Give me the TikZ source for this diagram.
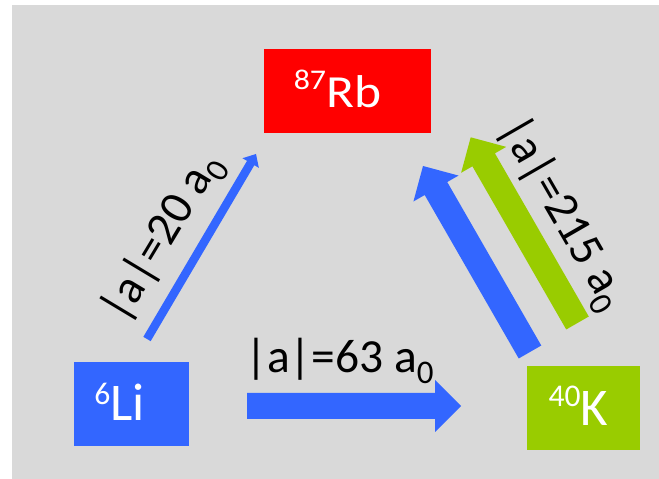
\documentclass[tikz,border=0pt]{standalone}
\usepackage{fontspec}
\setmainfont{Carlito}
\usetikzlibrary{calc}

\definecolor{slidegray}{HTML}{D9D9D9}
\definecolor{rbred}{HTML}{FF0000}
\definecolor{liblue}{HTML}{3366FF}
\definecolor{kgreen}{HTML}{99CC00}

% block arrow from tail #1 to tip #2: half shaft width #3, half head width #4, head length #5, colour #6
\newcommand\blockarrow[6]{%
  \coordinate (#1-base) at ($(#2)!#5!(#1)$);
  \fill[#6] ($(#1)!#3!90:(#2)$) -- ($(#1-base)!#3!90:(#2)$) -- ($(#1-base)!#4!90:(#2)$)
    -- (#2) -- ($(#1-base)!#4!-90:(#2)$) -- ($(#1-base)!#3!-90:(#2)$)
    -- ($(#1)!#3!-90:(#2)$) -- cycle;}

% scattering length label with subscript zero
\newcommand\aval[1]{|a|=#1 a\raisebox{-10.5pt}{\fontsize{33}{33}\selectfont 0}}

\tikzset{
  box/.style={rectangle, draw=none, inner sep=0pt},
  boxtext/.style={text=white, inner sep=0pt, font=\fontsize{53}{56}\selectfont},
  lbl/.style={text=black, inner sep=0pt, font=\fontsize{47.5}{50}\selectfont}
}

\begin{document}
\begin{tikzpicture}[x=1pt, y=1pt]
  \useasboundingbox (0,0) rectangle (659,479);
  \fill[slidegray] (12,0) rectangle (659,474);

  % species boxes
  \node[box, fill=rbred, minimum width=167pt, minimum height=84pt] (rb) at (347.5,388) {};
  \node[boxtext, anchor=base, xscale=1.12, font=\fontsize{46}{50}\selectfont] (rbtxt) at ($(rb.center)+(-10,-17)$)
    {\raisebox{18pt}{\fontsize{28.5}{30}\selectfont 87}Rb};

  \node[box, fill=liblue, minimum width=115pt, minimum height=84pt] (li) at (131.5,75) {};
  \node[boxtext, anchor=base] (litxt) at ($(li.center)+(-12,-17)$)
    {\raisebox{16pt}{\fontsize{31.6}{33}\selectfont 6}Li};

  \node[box, fill=kgreen, minimum width=113pt, minimum height=84pt] (k) at (583.5,71) {};
  \node[boxtext, anchor=base] (ktxt) at ($(k.center)+(-5,-18)$)
    {\raisebox{19pt}{\fontsize{31.6}{33}\selectfont 40}K};

  % arrow end points
  \coordinate (lik-a) at (247,73);    \coordinate (lik-b) at (461,73);
  \coordinate (lirb-a) at (147,140);  \coordinate (lirb-b) at (256,325);
  \coordinate (krb-a) at (530,127);   \coordinate (krb-b) at (423,313);
  \coordinate (krbg-a) at (577.5,156); \coordinate (krbg-b) at (470.7,341.7);

  \blockarrow{lik-a}{lik-b}{13pt}{26pt}{26pt}{liblue}
  \blockarrow{lirb-a}{lirb-b}{4.25pt}{9.5pt}{10.5pt}{liblue}
  \blockarrow{krb-a}{krb-b}{13pt}{26pt}{26pt}{liblue}
  \blockarrow{krbg-a}{krbg-b}{13pt}{26pt}{26pt}{kgreen}

  % scattering lengths
  \node[lbl, anchor=base west] (l63) at (245,106) {\aval{63}};
  \node[lbl, rotate=59] (l20) at (163,241) {\aval{20}};
  \node[lbl, rotate=-60] (l215) at (562,265) {\aval{215}};
\end{tikzpicture}
\end{document}
